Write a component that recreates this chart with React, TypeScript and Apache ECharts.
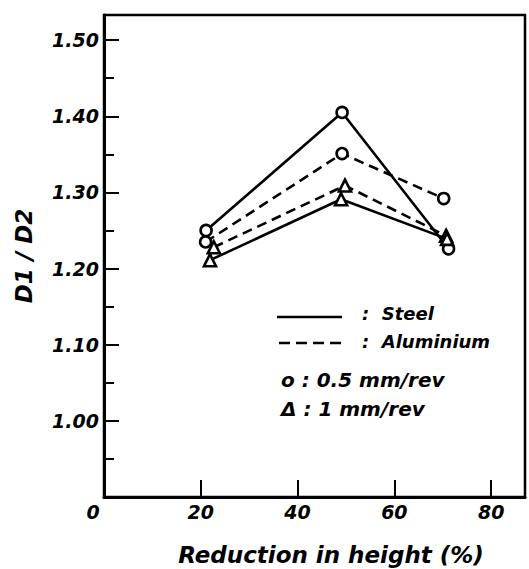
import React, { useEffect, useRef } from "react";
import * as echarts from "echarts";

const xTicks = [0, 20, 40, 60, 80];
const yTickLabels = ["1.00", "1.10", "1.20", "1.30", "1.40", "1.50"];

const steel05X = [21.1, 49.2, 71.2];
const steel05Y = [1.25, 1.405, 1.226];
const alu05X = [21.0, 49.2, 70.2];
const alu05Y = [1.235, 1.351, 1.292];
const alu1X = [22.7, 49.8, 70.7];
const alu1Y = [1.228, 1.309, 1.243];
const steel1X = [21.9, 49.0, 70.9];
const steel1Y = [1.211, 1.291, 1.239];

const FONT = "DejaVu Sans";

function pairs(xs: number[], ys: number[]) {
  return xs.map((x, i) => [x, ys[i]]);
}

export default function App() {
  const ref = useRef<HTMLDivElement>(null);
  useEffect(() => {
    if (!ref.current) return;
    const chart = echarts.init(ref.current, null, { renderer: "svg" });
    const lineSeries = (
      name: string,
      xs: number[],
      ys: number[],
      dashed: boolean,
      symbol: string,
      size: number
    ) => ({
      name,
      type: "line",
      data: pairs(xs, ys),
      symbol,
      symbolSize: size,
      showAllSymbol: true,
      lineStyle: { color: "#000", width: 2.6, type: dashed ? [10, 6] : "solid" },
      itemStyle: { color: "#fff", borderColor: "#000", borderWidth: 2.6 },
      z: 3,
    });
    const labelStyle = {
      fontFamily: FONT,
      fontWeight: "bold",
      fontStyle: "italic",
      fontSize: 19,
      color: "#000",
    };
    chart.setOption({
      animation: false,
      backgroundColor: "#fff",
      grid: {
        left: 104,
        right: 4,
        top: 15,
        bottom: 72,
        show: true,
        borderColor: "#000",
        borderWidth: 2.5,
        backgroundColor: "transparent",
      },
      xAxis: {
        type: "value",
        min: 0,
        max: 87,
        interval: 20,
        axisLine: { show: true, lineStyle: { color: "#000", width: 3 } },
        axisTick: { show: true, inside: true, length: 17, lineStyle: { color: "#000", width: 2 } },
        splitLine: { show: false },
        axisLabel: {
          ...labelStyle,
          margin: 5,
          showMaxLabel: false,
          formatter: (v: number) => {
            const r = Math.round(v);
            if (!xTicks.includes(r) || Math.abs(v - r) > 1e-6) return "";
            return r === 0 ? "{z|0}" : String(r);
          },
          rich: { z: { ...labelStyle, padding: [0, 22, 0, 0] } },
        },
      },
      yAxis: [
        {
          type: "value",
          min: 0.9,
          max: 1.533,
          interval: 0.1,
          position: "left",
          axisLine: { show: true, lineStyle: { color: "#000", width: 3 } },
          axisTick: { show: true, inside: true, length: 15, lineStyle: { color: "#000", width: 2 } },
          splitLine: { show: false },
          axisLabel: {
            ...labelStyle,
            margin: 5,
            formatter: (v: number) => {
              const s = (Math.round(v * 100) / 100).toFixed(2);
              return yTickLabels.includes(s) ? s : "";
            },
          },
        },
        {
          type: "value",
          min: 0.9,
          max: 1.533,
          interval: 0.05,
          position: "left",
          offset: 0,
          axisLine: { show: false },
          axisTick: { show: true, inside: true, length: 10, lineStyle: { color: "#000", width: 2 } },
          splitLine: { show: false },
          axisLabel: { show: false },
        },
      ],
      series: [
        lineSeries("Steel 0.5 mm/rev", steel05X, steel05Y, false, "circle", 11),
        lineSeries("Aluminium 0.5 mm/rev", alu05X, alu05Y, true, "circle", 11),
        lineSeries("Aluminium 1 mm/rev", alu1X, alu1Y, true, "triangle", 12),
        lineSeries("Steel 1 mm/rev", steel1X, steel1Y, false, "triangle", 12),
      ],
      graphic: [
        {
          type: "text",
          x: 24,
          y: 256,
          rotation: Math.PI / 2,
          style: {
            text: "D1 / D2",
            fill: "#000",
            font: `italic bold 23px "${FONT}"`,
            align: "center",
            verticalAlign: "middle",
          },
        },
        {
          type: "text",
          x: 331,
          y: 555,
          style: {
            text: "Reduction in height (%)",
            fill: "#000",
            font: `italic bold 23px "${FONT}"`,
            align: "center",
            verticalAlign: "middle",
          },
        },
        {
          type: "line",
          shape: { x1: 277, y1: 317, x2: 342, y2: 317 },
          style: { stroke: "#000", lineWidth: 2.5 },
        },
        {
          type: "line",
          shape: { x1: 279, y1: 343, x2: 344, y2: 343 },
          style: { stroke: "#000", lineWidth: 2.5, lineDash: [11, 6] },
        },
        {
          type: "text",
          x: 362,
          y: 313,
          style: {
            text: ":  Steel",
            fill: "#000",
            font: `italic bold 18px "${FONT}"`,
            verticalAlign: "middle",
          },
        },
        {
          type: "text",
          x: 362,
          y: 341,
          style: {
            text: ":  Aluminium",
            fill: "#000",
            font: `italic bold 18px "${FONT}"`,
            verticalAlign: "middle",
          },
        },
        {
          type: "text",
          x: 281,
          y: 380,
          style: {
            text: "o : 0.5 mm/rev",
            fill: "#000",
            font: `italic bold 20px "${FONT}"`,
            verticalAlign: "middle",
          },
        },
        {
          type: "text",
          x: 281,
          y: 409,
          style: {
            text: "Δ : 1 mm/rev",
            fill: "#000",
            font: `italic bold 20px "${FONT}"`,
            verticalAlign: "middle",
          },
        },
      ],
    });
    return () => chart.dispose();
  }, []);
  return (
    <div
      ref={ref}
      style={{ position: "fixed", left: 0, top: 0, width: 529, height: 569, background: "#fff" }}
    />
  );
}
